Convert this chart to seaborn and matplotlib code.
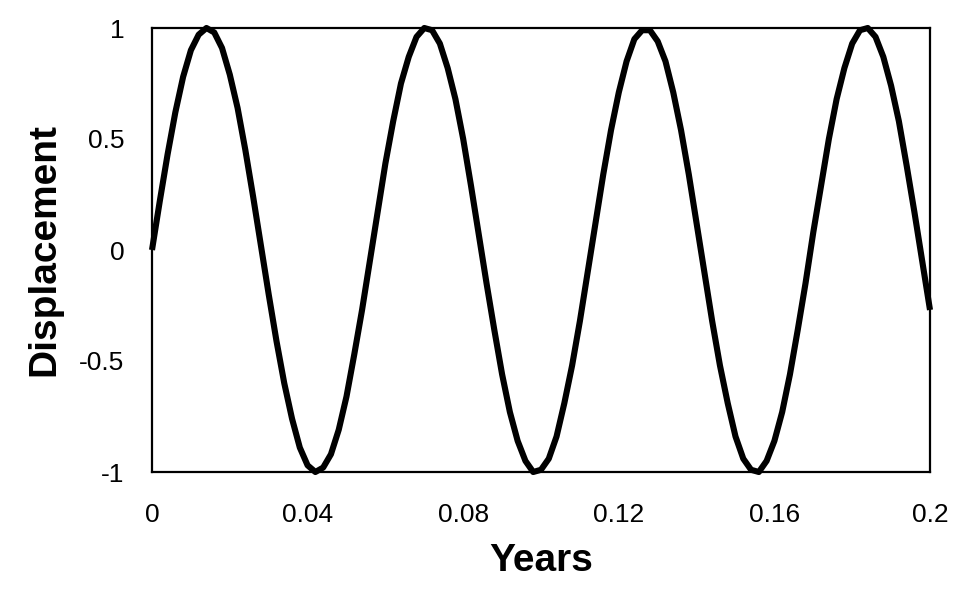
import numpy as np
import pandas as pd
import matplotlib
matplotlib.use("Agg")
import matplotlib.pyplot as plt
import seaborn as sns

# years, sampled every 0.002 from 0 to 0.2
years = np.round(np.arange(0, 101) * 0.002, 3)

# displacement
displacement = [
    0.00, 0.22, 0.43, 0.62, 0.78, 0.90, 0.97, 1.00, 0.98, 0.91,
    0.79, 0.64, 0.45, 0.24, 0.02, -0.20, -0.41, -0.60, -0.76, -0.89,
    -0.97, -1.00, -0.98, -0.92, -0.81, -0.66, -0.47, -0.27, -0.05, 0.17,
    0.39, 0.58, 0.75, 0.87, 0.96, 1.00, 0.99, 0.93, 0.82, 0.68,
    0.50, 0.29, 0.07, -0.15, -0.36, -0.56, -0.73, -0.86, -0.95, -1.00,
    -0.99, -0.94, -0.84, -0.69, -0.52, -0.32, -0.10, 0.12, 0.34, 0.54,
    0.71, 0.85, 0.95, 0.99, 0.99, 0.94, 0.85, 0.71, 0.54, 0.34,
    0.12, -0.10, -0.32, -0.52, -0.69, -0.84, -0.94, -0.99, -1.00, -0.95,
    -0.86, -0.73, -0.56, -0.36, -0.15, 0.08, 0.29, 0.50, 0.68, 0.82,
    0.93, 0.99, 1.00, 0.96, 0.87, 0.74, 0.58, 0.38, 0.17, -0.05,
    -0.27,
]

x_ticks = [0, 0.04, 0.08, 0.12, 0.16, 0.2]
x_tick_labels = ["0", "0.04", "0.08", "0.12", "0.16", "0.2"]
y_ticks = [-1, -0.5, 0, 0.5, 1]
y_tick_labels = ["-1", "-0.5", "0", "0.5", "1"]

sns.set_style("white")
plt.rcParams["font.family"] = ["Liberation Sans", "DejaVu Sans"]
plt.rcParams["text.color"] = "black"
plt.rcParams["xtick.color"] = "black"
plt.rcParams["ytick.color"] = "black"
plt.rcParams["axes.labelcolor"] = "black"

df = pd.DataFrame({"Years": years, "Displacement": displacement})

fig = plt.figure(figsize=(9.77, 6), dpi=100)
ax = fig.add_axes([152 / 977, 1 - 472 / 600, (930 - 152) / 977, (472 - 28) / 600])

sns.lineplot(data=df, x="Years", y="Displacement", ax=ax,
             color="black", linewidth=4.4, clip_on=False,
             solid_joinstyle="round", solid_capstyle="butt")

ax.set_xlim(0, 0.2)
ax.set_ylim(-1, 1)
ax.set_xticks(x_ticks)
ax.set_xticklabels(x_tick_labels, fontsize=19)
ax.set_yticks(y_ticks)
ax.set_yticklabels(y_tick_labels, fontsize=19)
ax.tick_params(axis="x", length=0, pad=22)
ax.tick_params(axis="y", length=0, pad=20)

for s in ax.spines.values():
    s.set_visible(True)
    s.set_color("black")
    s.set_linewidth(1.6)

ax.set_xlabel("Years", fontsize=28, fontweight="bold", labelpad=12)
ax.set_ylabel("Displacement", fontsize=28, fontweight="bold", labelpad=12)

fig.savefig("out.png", dpi=100)
